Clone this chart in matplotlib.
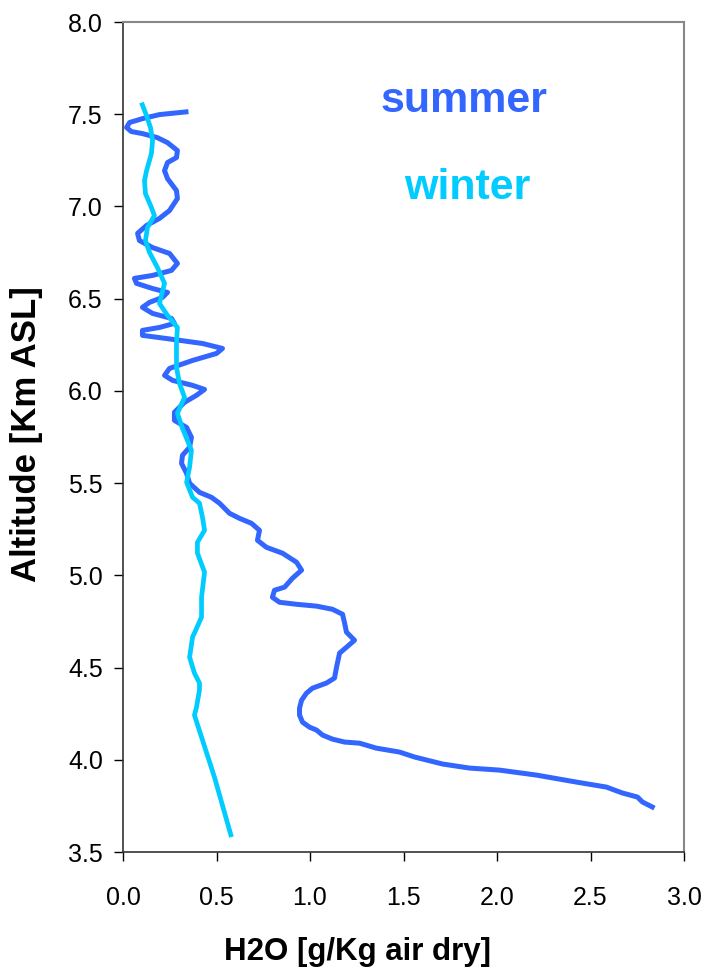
import matplotlib
matplotlib.use("Agg")
import matplotlib.pyplot as plt

plt.rcParams['font.family'] = ['Liberation Sans', 'DejaVu Sans']

summer_x = [0.350, 0.195, 0.104, 0.035, 0.019, 0.045, 0.104, 0.184, 0.238, 0.291, 0.286, 0.238,
            0.222, 0.238, 0.286, 0.291, 0.249, 0.195, 0.126, 0.078, 0.088, 0.158, 0.249, 0.291,
            0.259, 0.158, 0.061, 0.072, 0.158, 0.238, 0.211, 0.142, 0.104, 0.158, 0.259, 0.275,
            0.195, 0.104, 0.104, 0.232, 0.425, 0.532, 0.500, 0.372, 0.249, 0.222, 0.265, 0.372,
            0.436, 0.393, 0.329, 0.275, 0.275, 0.340, 0.366, 0.356, 0.318, 0.313, 0.340, 0.356,
            0.409, 0.473, 0.516, 0.570, 0.623, 0.687, 0.730, 0.719, 0.767, 0.853, 0.928, 0.955,
            0.906, 0.864, 0.810, 0.799, 0.837, 0.928, 1.035, 1.120, 1.174, 1.185, 1.195, 1.238,
            1.195, 1.158, 1.142, 1.131, 1.088, 1.013, 0.981, 0.955, 0.944, 0.944, 0.960, 0.997,
            1.035, 1.067, 1.120, 1.185, 1.265, 1.355, 1.478, 1.559, 1.709, 1.853, 2.013, 2.211,
            2.425, 2.585, 2.670, 2.751, 2.778, 2.842]
summer_y = [7.514, 7.498, 7.476, 7.455, 7.428, 7.406, 7.395, 7.373, 7.346, 7.303, 7.265, 7.238,
            7.194, 7.151, 7.086, 7.043, 6.978, 6.935, 6.897, 6.854, 6.815, 6.777, 6.745, 6.691,
            6.653, 6.626, 6.610, 6.583, 6.555, 6.534, 6.507, 6.480, 6.453, 6.420, 6.393, 6.366,
            6.344, 6.328, 6.301, 6.284, 6.257, 6.230, 6.203, 6.165, 6.122, 6.084, 6.057, 6.030,
            6.008, 5.976, 5.938, 5.884, 5.840, 5.802, 5.748, 5.694, 5.651, 5.607, 5.553, 5.499,
            5.450, 5.423, 5.391, 5.336, 5.309, 5.282, 5.244, 5.190, 5.152, 5.120, 5.071, 5.028,
            4.984, 4.936, 4.919, 4.881, 4.854, 4.843, 4.833, 4.816, 4.789, 4.741, 4.692, 4.648,
            4.610, 4.578, 4.502, 4.443, 4.416, 4.388, 4.361, 4.323, 4.280, 4.242, 4.204, 4.177,
            4.161, 4.134, 4.112, 4.096, 4.090, 4.063, 4.042, 4.015, 3.977, 3.955, 3.944, 3.917,
            3.879, 3.852, 3.820, 3.798, 3.771, 3.738]

winter_x = [0.099, 0.126, 0.147, 0.158, 0.152, 0.126, 0.115, 0.120, 0.152, 0.168, 0.131, 0.120,
            0.142, 0.184, 0.222, 0.195, 0.238, 0.291, 0.286, 0.286, 0.302, 0.329, 0.291, 0.318,
            0.366, 0.356, 0.340, 0.372, 0.409, 0.425, 0.436, 0.398, 0.398, 0.436, 0.420, 0.420,
            0.372, 0.356, 0.382, 0.409, 0.409, 0.393, 0.382, 0.425, 0.489, 0.580]
winter_y = [7.563, 7.492, 7.427, 7.357, 7.287, 7.194, 7.140, 7.070, 6.994, 6.951, 6.886, 6.815,
            6.750, 6.669, 6.583, 6.474, 6.409, 6.344, 6.257, 6.127, 6.041, 5.965, 5.878, 5.797,
            5.678, 5.586, 5.504, 5.423, 5.391, 5.315, 5.244, 5.179, 5.120, 5.017, 4.881, 4.773,
            4.665, 4.556, 4.470, 4.416, 4.378, 4.285, 4.242, 4.107, 3.906, 3.581]

x_ticks = [0.0, 0.5, 1.0, 1.5, 2.0, 2.5, 3.0]
y_ticks = [3.5, 4.0, 4.5, 5.0, 5.5, 6.0, 6.5, 7.0, 7.5, 8.0]

summer_color = '#3366FF'
winter_color = '#00CCFF'

fig = plt.figure(figsize=(7.09, 9.69), dpi=100)
ax = fig.add_axes([123 / 709, 1 - 852 / 969, (684 - 123) / 709, (852 - 22) / 969])

ax.plot(summer_x, summer_y, color=summer_color, lw=3.6, solid_joinstyle='round',
        solid_capstyle='butt', zorder=2)
ax.plot(winter_x, winter_y, color=winter_color, lw=3.4, solid_joinstyle='round',
        solid_capstyle='butt', zorder=3)

ax.set_xlim(0, 3.0)
ax.set_ylim(3.5, 8.0)
ax.set_xticks(x_ticks)
ax.set_yticks(y_ticks)
ax.set_xticklabels([f"{v:.1f}" for v in x_ticks])
ax.set_yticklabels([f"{v:.1f}" for v in y_ticks])
ax.tick_params(axis='both', labelsize=18, direction='out', length=6.5, width=1, color='black')
ax.tick_params(axis='x', pad=18)
ax.tick_params(axis='y', pad=8)

for s in ['top', 'right']:
    ax.spines[s].set_color('#888888')
    ax.spines[s].set_linewidth(1.5)
for s in ['left', 'bottom']:
    ax.spines[s].set_color('#333333')
    ax.spines[s].set_linewidth(1.2)

fig.text(357 / 709, 1 - 960 / 969, 'H2O [g/Kg air dry]', fontsize=22.5, fontweight='bold',
         ha='center', va='baseline')
fig.text(27 / 709, 1 - 434.5 / 969, 'Altitude [Km ASL]', fontsize=25, fontweight='bold',
         ha='center', va='center', rotation=90)

ax.text(1.826, 7.57, 'summer', color=summer_color, fontsize=31, fontweight='bold',
        ha='center', va='center')
ax.text(1.84, 7.10, 'winter', color=winter_color, fontsize=31, fontweight='bold',
        ha='center', va='center')

fig.savefig('out.png', dpi=100)
